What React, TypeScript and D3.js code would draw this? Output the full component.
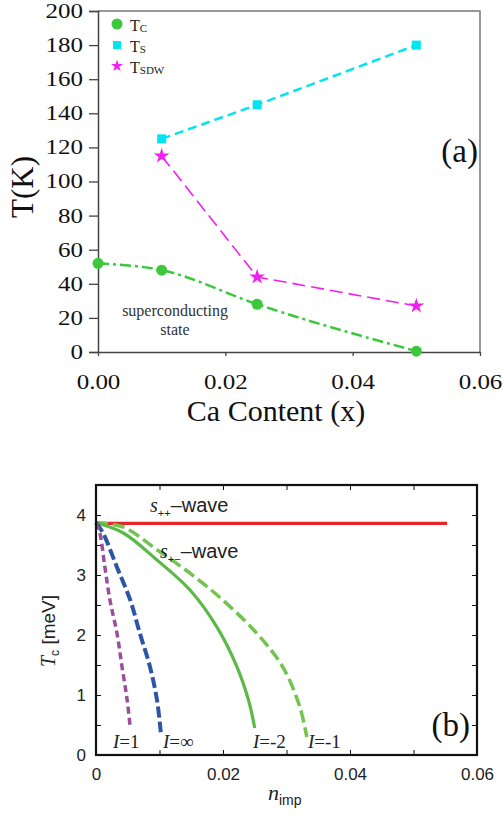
import React, { useEffect, useRef } from 'react';
import * as d3 from 'd3';

// ---- panel (a) data ----
const caContent = [0, 0.01, 0.025, 0.05];
const tcValues = [52, 48, 28, 0.5];
const tsContent = [0.01, 0.025, 0.05];
const tsValues = [125, 145, 180];
const tsdwValues = [115, 44, 27];
const xTicksA = [0, 0.02, 0.04, 0.06];
const xLabelsA = ['0.00', '0.02', '0.04', '0.06'];
const yTicksA = [0, 20, 40, 60, 80, 100, 120, 140, 160, 180, 200];

// ---- panel (b) data ----
const nRed = [0, 0.0553];
const tcRed = [3.86, 3.86];
const nI1 = [0, 0.0006, 0.0014, 0.0022, 0.0033, 0.0041, 0.0049, 0.0054];
const tcI1 = [3.87, 3.7, 3.13, 2.58, 2.03, 1.47, 0.92, 0.45];
const nInf = [0, 0.0011, 0.0033, 0.0054, 0.0069, 0.0085, 0.0096, 0.0102];
const tcInf = [3.87, 3.7, 3.13, 2.58, 2.03, 1.47, 0.92, 0.38];
const nM2 = [0, 0.0043, 0.0096, 0.0148, 0.019, 0.0222, 0.024, 0.025];
const tcM2 = [3.87, 3.7, 3.25, 2.75, 2.14, 1.47, 0.92, 0.45];
const nM1 = [0, 0.0043, 0.0096, 0.0148, 0.02, 0.0253, 0.0294, 0.0321, 0.0332];
const tcM1 = [3.87, 3.8, 3.42, 3.03, 2.58, 2.03, 1.47, 0.8, 0.3];
const xTicksB = [0, 0.01, 0.02, 0.03, 0.04, 0.05, 0.06];
const yTicksB = [0, 0.5, 1, 1.5, 2, 2.5, 3, 3.5, 4, 4.5];

const SERIF = '"Liberation Serif", "Times New Roman", serif';
const SANS = '"Liberation Sans", Arial, sans-serif';
const STRETCH = 1.25; // panel (a) tick labels look wider than plain Times

const App = () => {
  const svgRef = useRef(null);

  useEffect(() => {
    const svg = d3.select(svgRef.current);
    svg.selectAll('*').remove();

    /* Panel (a) ---------------------------------*/
    const xA = d3.scaleLinear().domain([0, 0.06]).range([98, 480]);
    const yA = d3.scaleLinear().domain([0, 200]).range([352, 11]);
    const gA = svg.append('g');

    // frame
    gA.append('path')
      .attr('d', `M${xA(0)},${yA(200)}H${xA(0.06)}V${yA(0)}`)
      .attr('fill', 'none').attr('stroke', '#777').attr('stroke-width', 1.5);

    const yAxisA = d3.axisLeft(yA).tickValues(yTicksA).tickSize(9).tickPadding(6);
    gA.append('g').attr('transform', `translate(${xA(0)},0)`).call(yAxisA)
      .attr('font-family', SERIF)
      .call(g => g.select('.domain').attr('stroke', '#444').attr('stroke-width', 1.5))
      .call(g => g.selectAll('.tick line').attr('stroke', '#444').attr('stroke-width', 1.3))
      .call(g => g.selectAll('text').attr('font-family', SERIF).attr('font-size', 20).attr('fill', '#111')
        .attr('x', -15 / STRETCH).attr('transform', `scale(${STRETCH},1)`));

    const xAxisA = d3.axisBottom(xA).tickValues(xTicksA)
      .tickFormat((d, i) => xLabelsA[i]).tickSize(4).tickPadding(19).tickSizeOuter(0);
    gA.append('g').attr('transform', `translate(0,${yA(0)})`).call(xAxisA)
      .attr('font-family', SERIF)
      .call(g => g.select('.domain').attr('stroke', '#444').attr('stroke-width', 1.5))
      .call(g => g.selectAll('.tick line').attr('stroke', '#444').attr('stroke-width', 1.3))
      .call(g => g.selectAll('text').attr('font-family', SERIF).attr('font-size', 20).attr('fill', '#111')
        .attr('transform', `scale(${STRETCH},1)`));

    // lines
    const tsLine = d3.line().x(d => xA(d[0])).y(d => yA(d[1]));
    gA.append('path')
      .attr('d', tsLine(tsContent.map((x, i) => [x, tsValues[i]])))
      .attr('fill', 'none').attr('stroke', '#00e5ee').attr('stroke-width', 2.5)
      .attr('stroke-dasharray', '9,5');
    gA.append('path')
      .attr('d', tsLine(tsContent.map((x, i) => [x, tsdwValues[i]])))
      .attr('fill', 'none').attr('stroke', '#f020f0').attr('stroke-width', 1.6)
      .attr('stroke-dasharray', '13,6');
    const tcLine = d3.line().x(d => xA(d[0])).y(d => yA(d[1])).curve(d3.curveMonotoneX);
    gA.append('path')
      .attr('d', tcLine(caContent.map((x, i) => [x, tcValues[i]])))
      .attr('fill', 'none').attr('stroke', '#3cc83c').attr('stroke-width', 2.5)
      .attr('stroke-dasharray', '11,4,3,4');

    // markers
    gA.selectAll('.tc-pt').data(caContent).join('circle')
      .attr('cx', d => xA(d)).attr('cy', (d, i) => yA(tcValues[i]))
      .attr('r', 5.5).attr('fill', '#3cc83c');
    gA.selectAll('.ts-pt').data(tsContent).join('rect')
      .attr('x', d => xA(d) - 4.5).attr('y', (d, i) => yA(tsValues[i]) - 4.5)
      .attr('width', 9).attr('height', 9).attr('fill', '#00e5ee');
    const star = d3.symbol().type(d3.symbolStar).size(75);
    gA.selectAll('.sdw-pt').data(tsContent).join('path')
      .attr('transform', (d, i) => `translate(${xA(d)},${yA(tsdwValues[i])})`)
      .attr('d', star()).attr('fill', '#f020f0');

    // legend
    const leg = gA.append('g').attr('font-family', SERIF).attr('fill', '#222');
    leg.append('circle').attr('cx', 117).attr('cy', 24).attr('r', 5.5).attr('fill', '#3cc83c');
    leg.append('rect').attr('x', 113).attr('y', 41).attr('width', 8).attr('height', 8).attr('fill', '#00e5ee');
    leg.append('path').attr('transform', 'translate(117,66)').attr('d', d3.symbol().type(d3.symbolStar).size(45)()).attr('fill', '#f020f0');
    [['C', 24], ['S', 45], ['SDW', 66]].forEach(([sub, y]) => {
      const t = leg.append('text').attr('x', 130).attr('y', y + 7).attr('font-size', 16);
      t.append('tspan').text('T');
      t.append('tspan').attr('font-size', 11).attr('dy', 1).text(sub);
    });

    gA.append('text').attr('x', 478).attr('y', 162).attr('text-anchor', 'end')
      .attr('font-family', SERIF).attr('font-size', 33).attr('fill', '#111').text('(a)');

    const sc = gA.append('g').attr('font-family', SERIF).attr('font-size', 16)
      .attr('text-anchor', 'middle').attr('fill', '#333');
    sc.append('text').attr('x', 175).attr('y', 316).text('superconducting');
    sc.append('text').attr('x', 175).attr('y', 335).text('state');

    gA.append('text').attr('x', 276).attr('y', 421).attr('text-anchor', 'middle')
      .attr('font-family', SERIF).attr('font-size', 30).attr('fill', '#111').text('Ca Content (x)');
    gA.append('text').attr('transform', 'translate(33,187) rotate(-90)').attr('text-anchor', 'middle')
      .attr('font-family', SERIF).attr('font-size', 31).attr('fill', '#111').text('T(K)');

    /* Panel (b) ---------------------------------*/
    const xB = d3.scaleLinear().domain([0, 0.06]).range([96, 477]);
    const yB = d3.scaleLinear().domain([0, 4.5]).range([755, 485]);
    const gB = svg.append('g');

    const styleAxis = g => {
      g.select('.domain').remove();
      g.selectAll('.tick line').attr('stroke', '#111').attr('stroke-width', 1);
      g.selectAll('text').attr('font-family', SANS).attr('font-size', 17).attr('fill', '#222');
    };
    gB.append('g').attr('transform', `translate(0,${yB(0)})`)
      .call(d3.axisBottom(xB).tickValues(xTicksB).tickSize(-5).tickPadding(13)
        .tickFormat(d => (Math.round(d * 100) % 2 === 0 ? (d === 0 ? '0' : d3.format('.2f')(d)) : '')))
      .call(styleAxis);
    gB.append('g').attr('transform', `translate(0,${yB(4.5)})`)
      .call(d3.axisTop(xB).tickValues(xTicksB).tickSize(-5).tickFormat(() => ''))
      .call(styleAxis);
    gB.append('g').attr('transform', `translate(${xB(0)},0)`)
      .call(d3.axisLeft(yB).tickValues(yTicksB).tickSize(-5).tickPadding(10)
        .tickFormat(d => (Number.isInteger(d) ? String(d) : '')))
      .call(styleAxis);
    gB.append('g').attr('transform', `translate(${xB(0.06)},0)`)
      .call(d3.axisRight(yB).tickValues(yTicksB).tickSize(-5).tickFormat(() => ''))
      .call(styleAxis);

    const curveB = d3.line().x(d => xB(d[0])).y(d => yB(d[1])).curve(d3.curveCatmullRom.alpha(0.5));
    const zip = (xs, ys) => xs.map((x, i) => [x, ys[i]]);
    const seriesB = [
      { xs: nRed, ys: tcRed, color: '#e8252b', w: 3.2, dash: null },
      { xs: nM1, ys: tcM1, color: '#72c44f', w: 3.5, dash: '12,5' },
      { xs: nM2, ys: tcM2, color: '#5bb947', w: 3.2, dash: null },
      { xs: nInf, ys: tcInf, color: '#2c55a6', w: 4, dash: '11,4' },
      { xs: nI1, ys: tcI1, color: '#9a4f9c', w: 3.5, dash: '7,4' },
    ];
    gB.selectAll('.curve').data(seriesB).join('path')
      .attr('d', d => curveB(zip(d.xs, d.ys)))
      .attr('fill', 'none').attr('stroke', d => d.color).attr('stroke-width', d => d.w)
      .attr('stroke-dasharray', d => d.dash);

    gB.append('rect').attr('x', xB(0)).attr('y', yB(4.5))
      .attr('width', xB(0.06) - xB(0)).attr('height', yB(0) - yB(4.5))
      .attr('fill', 'none').attr('stroke', '#111').attr('stroke-width', 2.2);

    // wave labels
    const wave = (x, y, sub) => {
      const t = gB.append('text').attr('x', x).attr('y', y).attr('fill', '#222');
      t.append('tspan').attr('font-family', SERIF).attr('font-style', 'italic').attr('font-size', 20).text('s');
      t.append('tspan').attr('font-family', SANS).attr('font-size', 11).attr('dy', 5).text(sub);
      t.append('tspan').attr('font-family', SANS).attr('font-size', 20).attr('dy', -5).text('\u2013wave');
    };
    wave(150, 512, '++');
    wave(160, 558, '+\u2212');

    [['1', 113], ['\u221e', 163], ['-2', 253], ['-1', 308]].forEach(([v, x]) => {
      const t = gB.append('text').attr('x', x).attr('y', 748).attr('font-family', SERIF)
        .attr('font-size', 19).attr('fill', '#222');
      t.append('tspan').attr('font-style', 'italic').text('I');
      t.append('tspan').text('=' + v);
    });

    gB.append('text').attr('x', 470).attr('y', 736).attr('text-anchor', 'end')
      .attr('font-family', SERIF).attr('font-size', 33).attr('fill', '#111').text('(b)');

    const xl = gB.append('text').attr('x', 268).attr('y', 800).attr('fill', '#222');
    xl.append('tspan').attr('font-family', SERIF).attr('font-style', 'italic').attr('font-size', 22).text('n');
    xl.append('tspan').attr('font-family', SANS).attr('font-size', 14).attr('dy', 5).text('imp');

    const yl = gB.append('text').attr('transform', 'translate(55,631) rotate(-90)')
      .attr('text-anchor', 'middle').attr('fill', '#222');
    yl.append('tspan').attr('font-family', SERIF).attr('font-style', 'italic').attr('font-size', 20).text('T');
    yl.append('tspan').attr('font-family', SANS).attr('font-size', 12).attr('dy', 4).text('c');
    yl.append('tspan').attr('font-family', SANS).attr('font-size', 19).attr('dy', -4).text(' [meV]');
  }, []);

  return (
    <svg
      ref={svgRef}
      width={503}
      height={817}
      style={{ position: 'absolute', left: 0, top: 0, background: '#fff' }}
    />
  );
};

export default App;
